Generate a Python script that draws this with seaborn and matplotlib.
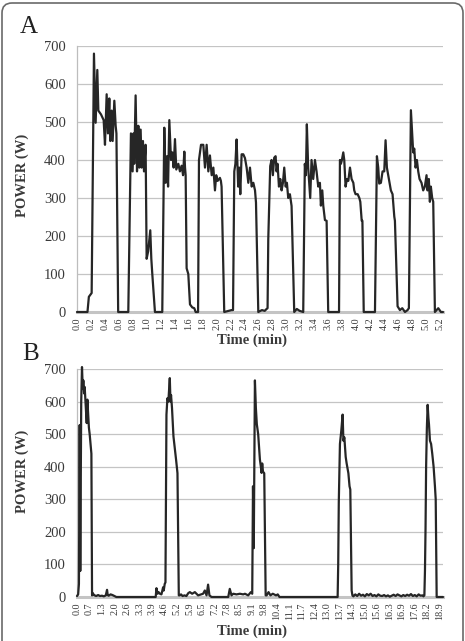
import numpy as np
import pandas as pd
import matplotlib
matplotlib.use("Agg")
import matplotlib.pyplot as plt
from matplotlib.patches import FancyBboxPatch
import seaborn as sns

# panel A: repeated short sprints (time in min, power in W)
a_time = [0.00, 0.15, 0.17, 0.21, 0.243, 0.267, 0.291, 0.306, 0.344, 0.382, 0.401, 0.425, 0.444, 0.463,
          0.477, 0.497, 0.511, 0.535, 0.554, 0.565, 0.59, 0.735,
          0.773, 0.797, 0.81, 0.82, 0.84, 0.86, 0.879, 0.893, 0.912, 0.926, 0.945, 0.96, 0.983, 0.998,
          1.02, 1.05, 1.065, 1.079, 1.117, 1.222,
          1.251, 1.27, 1.29, 1.305, 1.323, 1.347, 1.366, 1.385, 1.404, 1.423, 1.452, 1.475, 1.499, 1.52,
          1.538, 1.548, 1.557, 1.571, 1.595, 1.619, 1.652, 1.681, 1.70, 1.735,
          1.748, 1.777, 1.81, 1.834, 1.858, 1.882, 1.905, 1.93, 1.954, 1.977, 1.995, 2.015, 2.048, 2.062,
          2.072, 2.11, 2.215, 2.236,
          2.254, 2.27, 2.287, 2.30, 2.31, 2.325, 2.34, 2.359, 2.383, 2.407, 2.431, 2.455, 2.479, 2.503,
          2.527, 2.551, 2.565, 2.598, 2.65, 2.69, 2.717, 2.731,
          2.741, 2.769, 2.788, 2.807, 2.826, 2.846, 2.86, 2.874, 2.894, 2.913, 2.932, 2.951, 2.97, 2.99,
          3.008, 3.027, 3.051, 3.075, 3.113, 3.15, 3.19, 3.242,
          3.265, 3.28, 3.294, 3.313, 3.342, 3.361, 3.385, 3.41, 3.433, 3.457, 3.481, 3.495, 3.515, 3.529,
          3.553, 3.577, 3.60, 3.744, 3.755,
          3.768, 3.782, 3.796, 3.816, 3.83, 3.849, 3.868, 3.888, 3.912, 3.935, 3.96, 3.973, 3.992, 4.022,
          4.046, 4.06, 4.08, 4.09, 4.109, 4.262, 4.27,
          4.298, 4.317, 4.331, 4.355, 4.379, 4.403, 4.422, 4.441, 4.47, 4.498, 4.522, 4.547, 4.556, 4.594,
          4.628, 4.661, 4.70, 4.737, 4.756,
          4.785, 4.804, 4.818, 4.833, 4.852, 4.871, 4.89, 4.909, 4.937, 4.961, 4.985, 5.009, 5.023, 5.042,
          5.057, 5.071, 5.09, 5.105, 5.129, 5.153, 5.177, 5.215, 5.245]
a_power = [0, 0, 40, 50, 680, 498, 637, 530, 520, 505, 440, 573, 470, 562,
           450, 530, 450, 556, 490, 470, 0, 0,
           470, 370, 470, 390, 570, 370, 490, 380, 480, 380, 450, 370, 440, 140,
           160, 215, 140, 100, 0, 0,
           485, 340, 410, 330, 505, 400, 420, 380, 455, 375, 390, 370, 385, 360,
           422, 380, 360, 115, 100, 20, 12, 10, 0, 0,
           400, 440, 440, 380, 440, 370, 412, 360, 380, 320, 360, 345, 353, 345,
           330, 0, 5, 5,
           370, 390, 454, 380, 330, 380, 310, 415, 415, 405, 380, 340, 380, 330,
           340, 320, 288, 0, 5, 3, 8, 10,
           191, 384, 400, 360, 406, 410, 370, 390, 330, 350, 320, 340, 380, 330,
           340, 300, 310, 279, 0, 8, 3, 0,
           390, 360, 494, 380, 300, 400, 350, 400, 370, 330, 340, 280, 320, 280,
           242, 240, 0, 0, 0,
           400, 390, 400, 420, 400, 330, 350, 345, 380, 350, 340, 320, 310, 310,
           300, 290, 240, 240, 0, 0, 0,
           410, 380, 338, 340, 370, 370, 452, 380, 350, 320, 310, 251, 240, 15,
           5, 10, 0, 5, 10,
           531, 470, 420, 430, 380, 400, 370, 350, 340, 320, 330, 360, 320, 350,
           290, 330, 300, 290, 0, 5, 10, 0, 0]
a_ticks = ["0.0", "0.2", "0.4", "0.6", "0.8", "1.0", "1.2", "1.4", "1.6", "1.8", "2.0", "2.2", "2.4",
           "2.6", "2.8", "3.0", "3.2", "3.4", "3.6", "3.8", "4.0", "4.2", "4.4", "4.6", "4.8", "5.0", "5.2"]

# panel B: five long sprints
b_time = [0.00, 0.06, 0.10, 0.14, 0.17, 0.22, 0.26, 0.30, 0.33, 0.37, 0.40, 0.44, 0.48, 0.506, 0.54,
          0.58, 0.62, 0.66, 0.714, 0.75, 0.784,
          0.82, 0.86, 0.92, 1.00, 1.10, 1.20, 1.30, 1.40, 1.50, 1.565, 1.60, 1.65, 1.75, 1.85, 1.95, 2.05,
          4.10, 4.14, 4.20, 4.25, 4.32, 4.40, 4.487, 4.52, 4.57, 4.609,
          4.661, 4.71, 4.76, 4.80, 4.835, 4.87, 4.90, 4.95, 5.026, 5.09, 5.165, 5.235, 5.304,
          5.35, 5.42, 5.50, 5.60, 5.70, 5.80, 5.88, 6.00, 6.14, 6.31, 6.57, 6.66, 6.75, 6.83, 6.90, 7.01,
          7.88, 7.96, 8.05, 8.14, 8.31, 8.49, 8.66, 8.75, 8.92, 9.06, 9.13,
          9.17, 9.21, 9.27, 9.32, 9.37, 9.44, 9.53, 9.58, 9.617, 9.65, 9.69, 9.756, 9.83,
          9.88, 9.98, 10.08, 10.20, 10.37, 10.46, 10.55, 13.55,
          13.58, 13.61, 13.64, 13.70, 13.77, 13.84, 13.88, 13.93, 14.00, 14.05, 14.14, 14.20, 14.24, 14.31,
          14.35, 14.40, 14.50, 14.60, 14.70, 14.80, 14.90, 15.00, 15.10, 15.20, 15.30, 15.40, 15.50, 15.60,
          15.70, 15.80, 15.90, 16.00, 16.10, 16.20, 16.30, 16.40, 16.50, 16.60, 16.70, 16.80, 16.90, 17.00,
          17.10, 17.20, 17.30, 17.40, 17.50, 17.60, 17.70, 17.80, 17.90, 18.00, 18.05,
          18.10, 18.13, 18.16, 18.19, 18.23, 18.27, 18.31, 18.34, 18.39, 18.45, 18.51, 18.58, 18.65, 18.69,
          18.74, 19.07]
b_power = [3, 8, 40, 528, 80, 600, 706, 640, 665, 625, 645, 600, 560, 534, 606,
           560, 520, 500, 463, 440, 5,
           12, 8, 5, 3, 6, 3, 4, 2, 5, 22, 6, 4, 8, 6, 3, 0,
           0, 27, 10, 15, 10, 8, 30, 20, 40, 45,
           560, 610, 600, 640, 672, 600, 620, 580, 493, 460, 420, 380, 5,
           5, 8, 3, 5, 3, 12, 15, 10, 15, 5, 10, 20, 5, 38, 5, 0,
           0, 25, 5, 10, 8, 10, 8, 10, 5, 15, 10,
           340, 150, 665, 580, 530, 500, 422, 400, 381, 410, 385, 380, 5,
           5, 15, 5, 10, 5, 8, 0, 0,
           0, 100, 290, 470, 510, 560, 480, 490, 430, 410, 380, 340, 330, 20,
           5, 2, 8, 3, 10, 4, 7, 2, 9, 5, 10, 3, 6, 2,
           8, 4, 3, 6, 2, 5, 1, 4, 7, 3, 8, 5, 2, 6,
           3, 7, 4, 9, 3, 6, 2, 8, 4, 5, 2,
           5, 80, 210, 400, 520, 590, 550, 530, 480, 470, 440, 400, 340, 300,
           0, 0]
b_ticks = ["0.0", "0.7", "1.3", "2.0", "2.6", "3.3", "3.9", "4.6", "5.2", "5.9", "6.5", "7.2", "7.8",
           "8.5", "9.1", "9.8", "10.4", "11.1", "11.7", "12.4", "13.0", "13.7", "14.3", "15.0", "15.6",
           "16.3", "16.9", "17.6", "18.2", "18.9"]

sns.set_style("white")
plt.rcParams["font.family"] = ["Liberation Serif", "DejaVu Serif"]

fig = plt.figure(figsize=(4.65, 6.41), dpi=100)
W, H = 465, 641

def panel(top, bottom, t, p, ticks, step, xmax, ylab_y, xlab_y):
    ax = fig.add_axes([77 / W, 1 - bottom / H, 366 / W, (bottom - top) / H])
    df = pd.DataFrame({"Time (min)": t, "POWER (W)": p})
    sns.lineplot(data=df, x="Time (min)", y="POWER (W)", ax=ax, color="#262626",
                 lw=1.6, estimator=None, sort=False)
    for ln in ax.lines:
        ln.set_clip_on(False)
        ln.set_zorder(5)
    ax.set_xlim(0, xmax)
    ax.set_ylim(0, 700)
    ax.set_yticks(range(0, 701, 100))
    ax.set_xticks(np.arange(len(ticks)) * step)
    ax.set_xticklabels(ticks, rotation=90)
    ax.yaxis.grid(True, color="#c4c4c4", lw=0.9)
    ax.set_axisbelow(True)
    for s in ["top", "right"]:
        ax.spines[s].set_visible(False)
    ax.spines["left"].set_color("#bdbdbd")
    ax.spines["left"].set_linewidth(0.9)
    ax.spines["bottom"].set_color("#c4c4c4")
    ax.spines["bottom"].set_linewidth(2.2)
    ax.spines["bottom"].set_zorder(1)
    ax.tick_params(axis="y", length=0, pad=8, labelsize=10.5, labelcolor="#3a3a3a")
    ax.tick_params(axis="x", length=0, pad=4, labelsize=7.3, labelcolor="#3a3a3a")
    ax.set_xlabel("Time (min)", fontsize=10.5, fontweight="bold", color="#3a3a3a")
    ax.set_ylabel("POWER (W)", fontsize=10.5, fontweight="bold", color="#3a3a3a")
    ax.xaxis.set_label_coords((252 - 77) / 366, xlab_y)
    ax.yaxis.set_label_coords((29 - 77) / 366, ylab_y)
    return ax

panel(46, 312, a_time, a_power, a_ticks, 0.2, 5.245, 0.515, (312 - 334) / 266)
panel(369, 597, b_time, b_power, b_ticks, 0.6515, 19.07, 0.553, (597 - 625) / 228)

fig.text(20 / W, 1 - 33 / H, "A", fontsize=18, va="baseline", ha="left", color="#222222")
fig.text(22 / W, 1 - 360 / H, "B", fontsize=18, va="baseline", ha="left", color="#222222")

frame = FancyBboxPatch((0.02, -0.1), 4.61, 6.48, boxstyle="round,pad=0,rounding_size=0.1",
                       transform=fig.dpi_scale_trans, fill=False, ec="#6a6a6a", lw=1.2)
fig.patches.append(frame)

fig.savefig("out.png", dpi=100)
